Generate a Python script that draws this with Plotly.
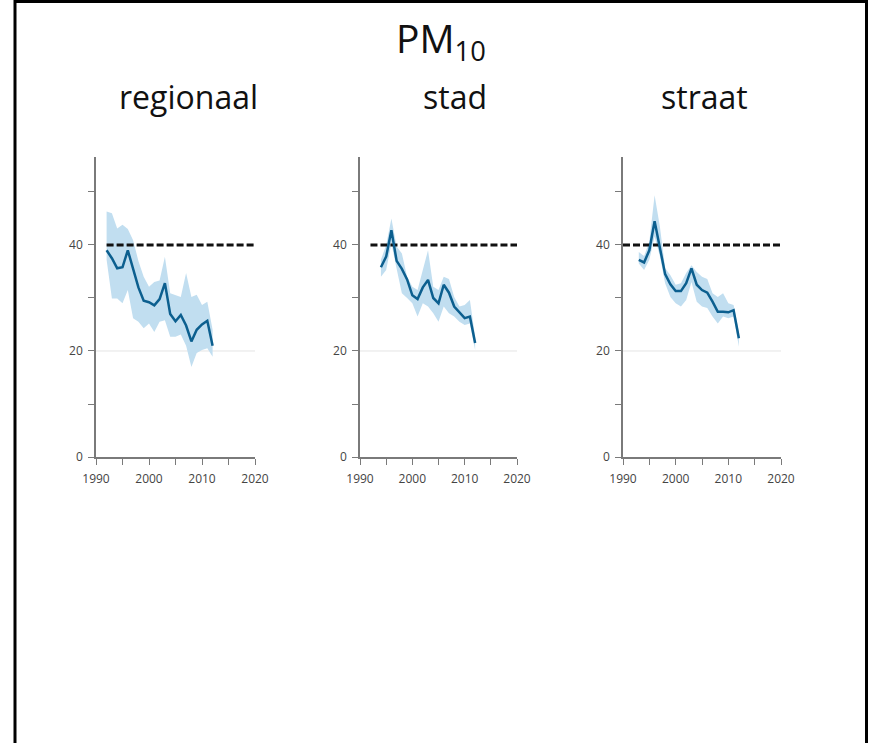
import plotly.graph_objects as go

# ---------------- data ----------------
panel_titles = ["regionaal", "stad", "straat"]
limit_value = 40
grid_value = 20

reg_years = list(range(1992, 2013))
reg_mean = [39, 37.5, 35.6, 35.8, 39, 35.5, 32, 29.5, 29.2, 28.6, 29.8, 32.8,
            27, 25.6, 26.8, 24.8, 21.8, 24, 25, 25.7, 21]
reg_upper = [46.3, 46, 43.1, 43.8, 43, 40.9, 37, 34, 32.1, 33, 33.3, 37.8,
             30.9, 30.5, 30.2, 34.7, 30.2, 30.6, 28.7, 29.3, 24]
reg_lower = [37.2, 29.9, 29.9, 29, 31.5, 26.2, 25.5, 24.3, 25.2, 23.6, 25.5, 25.8,
             22.7, 22.7, 23.1, 21, 17, 19.6, 20.2, 20.5, 18.9]

stad_years = list(range(1994, 2013))
stad_mean = [35.8, 37.8, 42.8, 37, 35.5, 33.5, 30.5, 29.8, 32, 33.4, 30, 29,
             32.5, 31, 28.4, 27.2, 26.2, 26.5, 21.5]
stad_upper = [37.2, 40, 45, 39.7, 38.4, 34, 32.1, 31.5, 35.3, 39, 32.1, 31.5,
              34, 33.6, 30.2, 28.4, 28.7, 29.6, 22.7]
stad_lower = [34, 35.3, 40.3, 35.5, 30.9, 30, 29, 26.5, 29, 28.4, 27.1, 25.5,
              28.4, 27.1, 26.5, 25.5, 24.9, 25.2, 20.2]

straat_years = list(range(1993, 2013))
straat_mean = [37.2, 36.7, 39, 44.5, 39.5, 34.5, 32.6, 31.3, 31.3, 32.8, 35.6,
               32.5, 31.5, 31, 29.3, 27.4, 27.4, 27.3, 27.7, 22.4]
straat_upper = [38.7, 37.9, 40.6, 49.4, 43.5, 35.6, 34.3, 32.5, 32.8, 34.7, 36.2,
                34.9, 34, 33.6, 30.9, 30.2, 30.9, 29, 28.7, 23.6]
straat_lower = [36.5, 35.3, 37.2, 41.6, 37.9, 32.8, 30.2, 29, 28.4, 29.6, 33,
                29.3, 28.4, 28.1, 26.5, 25.2, 26.5, 26.2, 26.5, 20.8]

limit_start = [1992, 1992, 1990]
limit_end = 2020

x_range = [1990, 2020]
x_major_step, x_minor_step = 10, 5
y_range = [0, 56.6]
y_major_step, y_minor_step = 20, 10

panels = [
    (reg_years, reg_mean, reg_upper, reg_lower),
    (stad_years, stad_mean, stad_upper, stad_lower),
    (straat_years, straat_mean, straat_upper, straat_lower),
]

# ---------------- style ----------------
W, H = 870, 743
LINE_COLOR = "#0c5f8f"
BAND_COLOR = "#c1def0"
AXIS_COLOR = "#7a7a7a"
FONT = "Open Sans"


def px_x(p):
    return p / W


def px_y(p):
    return 1 - p / H


x_domains = [(96, 255), (360, 517), (623, 781)]
y_dom = [px_y(457), px_y(157)]

fig = go.Figure()

for i, (yrs, mean, up, lo) in enumerate(panels):
    sfx = "" if i == 0 else str(i + 1)
    xa, ya = "x" + sfx, "y" + sfx
    fig.add_trace(go.Scatter(x=x_range, y=[grid_value, grid_value],
                             mode="lines", line=dict(color="#e4e4e4", width=1),
                             xaxis=xa, yaxis=ya, hoverinfo="skip", showlegend=False))
    fig.add_trace(go.Scatter(x=yrs + yrs[::-1], y=up + lo[::-1], fill="toself",
                             fillcolor=BAND_COLOR, line=dict(width=0), mode="lines",
                             xaxis=xa, yaxis=ya, hoverinfo="skip", showlegend=False))
    fig.add_trace(go.Scatter(x=[limit_start[i], limit_end], y=[limit_value, limit_value],
                             mode="lines", line=dict(color="#111111", width=3, dash="7px,3px"),
                             xaxis=xa, yaxis=ya, showlegend=False))
    fig.add_trace(go.Scatter(x=yrs, y=mean, mode="lines",
                             line=dict(color=LINE_COLOR, width=2.5),
                             xaxis=xa, yaxis=ya, showlegend=False))

    x0, x1 = x_domains[i]
    axis_common = dict(showline=True, linecolor=AXIS_COLOR, linewidth=1.5,
                       ticks="outside", ticklen=6, tickwidth=1.2, tickcolor=AXIS_COLOR,
                       showgrid=False, zeroline=False, automargin=False,
                       tickfont=dict(family=FONT, size=12, color="#444444"))
    minor = dict(ticks="outside", ticklen=6, tickwidth=1.2, tickcolor=AXIS_COLOR,
                 showgrid=False)
    fig.layout["xaxis" + sfx] = dict(domain=[px_x(x0), px_x(x1)], range=x_range,
                                     anchor=ya, tickmode="linear", tick0=x_range[0],
                                     dtick=x_major_step, ticklabelstandoff=4,
                                     minor=dict(dtick=x_minor_step, **minor),
                                     **axis_common)
    fig.layout["yaxis" + sfx] = dict(domain=y_dom, range=y_range, anchor=xa,
                                     tickmode="linear", tick0=0, dtick=y_major_step,
                                     ticklabelstandoff=3,
                                     minor=dict(dtick=y_minor_step, **minor),
                                     **axis_common)

annotations = [
    dict(text="PM<sub>10</sub>", x=px_x(441), y=px_y(40), xref="paper", yref="paper",
         xanchor="center", yanchor="middle", showarrow=False,
         font=dict(family=FONT, size=39, color="#111111")),
]
sub_centers = [188, 455, 704]
for t, cx in zip(panel_titles, sub_centers):
    annotations.append(dict(text=t, x=px_x(cx), y=px_y(97), xref="paper", yref="paper",
                            xanchor="center", yanchor="middle", showarrow=False,
                            font=dict(family=FONT, size=32, color="#111111")))

fig.update_layout(
    template="none",
    width=W, height=H,
    margin=dict(l=0, r=0, t=0, b=0),
    paper_bgcolor="white", plot_bgcolor="white",
    annotations=annotations,
    shapes=[dict(type="rect", xref="paper", yref="paper",
                 x0=px_x(15), x1=px_x(866.5), y0=-0.05, y1=px_y(1.5),
                 line=dict(color="#000000", width=3))],
)

fig.write_html("out.html",
               config={"displayModeBar": False},
               post_script="document.body.style.margin='0';"
                           "document.body.style.overflow='hidden';")
